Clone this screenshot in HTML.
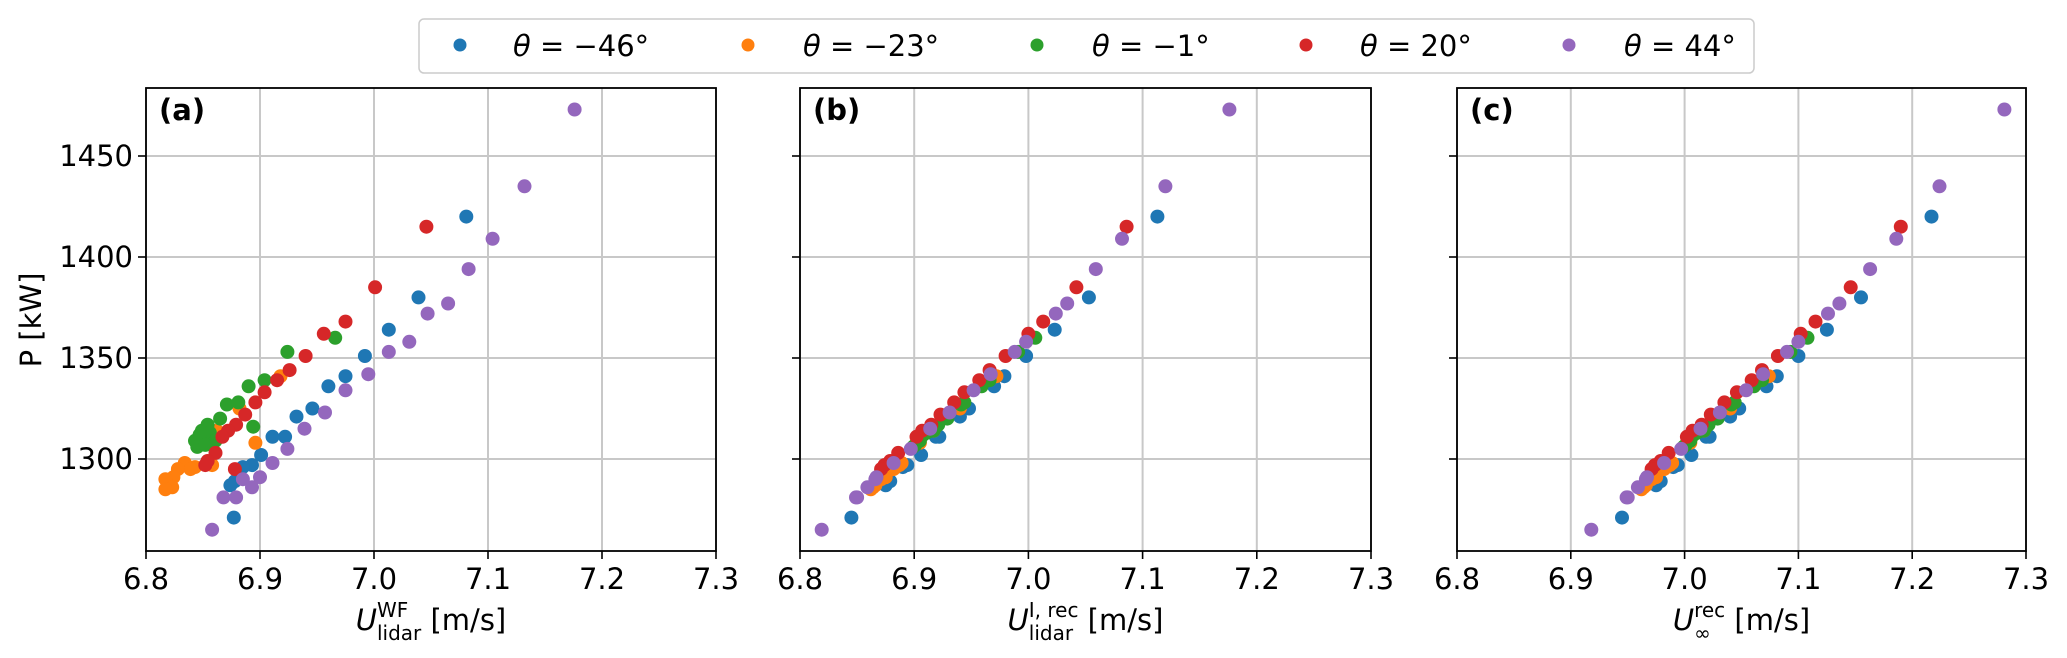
<!DOCTYPE html>
<html><head><meta charset="utf-8"><style>
html,body{margin:0;padding:0;background:#fff;}
svg{display:block;font-family:"DejaVu Sans","Liberation Sans",sans-serif;}
</style></head><body>
<svg id="chart" width="2067" height="658" viewBox="0 0 2067 658" xmlns="http://www.w3.org/2000/svg">
<rect x="0" y="0" width="2067" height="658" fill="#fff"/>
<g id="legend">
  <rect x="419" y="19" width="1335" height="54" rx="5" fill="#fff" stroke="#cccccc" stroke-width="1.5"/>
  <g><circle cx="460" cy="45" r="6.5" fill="#1f77b4"/><text x="513" y="56" font-size="29"><tspan font-style="italic">θ</tspan> = −46°</text></g>
  <g><circle cx="748" cy="45" r="6.5" fill="#ff7f0e"/><text x="803" y="56" font-size="29"><tspan font-style="italic">θ</tspan> = −23°</text></g>
  <g><circle cx="1037" cy="45" r="6.5" fill="#2ca02c"/><text x="1092" y="56" font-size="29"><tspan font-style="italic">θ</tspan> = −1°</text></g>
  <g><circle cx="1306" cy="45" r="6.5" fill="#d62728"/><text x="1360" y="56" font-size="29"><tspan font-style="italic">θ</tspan> = 20°</text></g>
  <g><circle cx="1569" cy="45" r="6.5" fill="#9467bd"/><text x="1624" y="56" font-size="29"><tspan font-style="italic">θ</tspan> = 44°</text></g>
</g>
<text transform="translate(41,320) rotate(-90)" text-anchor="middle" font-size="29">P [kW]</text>
</svg>
<script>
const yTicks = [1300, 1350, 1400, 1450];
const xTicks = [6.8, 6.9, 7.0, 7.1, 7.2, 7.3];
const xTickLabels = ["6.8", "6.9", "7.0", "7.1", "7.2", "7.3"];
const seriesNames = ["theta-minus-46", "theta-minus-23", "theta-minus-1", "theta-20", "theta-44"];
const seriesColors = ["#1f77b4", "#ff7f0e", "#2ca02c", "#d62728", "#9467bd"];

const pBlue = [1420,1380,1364,1351,1341,1336,1325,1321,1311,1311,1302,1297,1296,1289,1287,1271];
const pOrange = [1341,1325,1314,1308,1297,1296,1298,1295,1295,1291,1290,1287,1286,1285];
const pGreen = [1360,1353,1339,1336,1328,1327,1320,1317,1314,1316,1313,1309,1312,1309,1306,1307];
const pRed = [1415,1385,1368,1362,1351,1344,1339,1333,1328,1322,1317,1314,1311,1303,1299,1297,1295];
const pPurple = [1473,1435,1409,1394,1377,1372,1358,1353,1342,1334,1323,1315,1305,1298,1291,1290,1286,1281,1281,1265];

const aBlue = [7.081,7.039,7.013,6.992,6.975,6.960,6.946,6.932,6.922,6.911,6.901,6.893,6.885,6.878,6.874,6.877];
const aOrange = [6.918,6.882,6.862,6.896,6.858,6.843,6.834,6.839,6.828,6.824,6.817,6.819,6.823,6.817];
const aGreen = [6.966,6.924,6.904,6.890,6.881,6.871,6.865,6.854,6.849,6.894,6.856,6.843,6.847,6.861,6.845,6.852];
const aRed = [7.046,7.001,6.975,6.956,6.940,6.926,6.915,6.904,6.896,6.887,6.879,6.872,6.867,6.861,6.854,6.852,6.878];
const aPurple = [7.176,7.132,7.104,7.083,7.065,7.047,7.031,7.013,6.995,6.975,6.957,6.939,6.924,6.911,6.900,6.885,6.893,6.868,6.879,6.858];

const bBlue = [7.113,7.053,7.023,6.998,6.979,6.970,6.948,6.940,6.922,6.919,6.906,6.894,6.890,6.879,6.875,6.845];
const bOrange = [6.972,6.940,6.917,6.905,6.887,6.884,6.889,6.881,6.882,6.875,6.871,6.866,6.864,6.862];
const bGreen = [7.006,6.991,6.966,6.959,6.944,6.941,6.929,6.921,6.917,6.919,6.911,6.905,6.908,6.903,6.899,6.901];
const bRed = [7.086,7.042,7.013,7.000,6.980,6.966,6.957,6.944,6.935,6.923,6.915,6.907,6.902,6.886,6.879,6.874,6.871];
const bPurple = [7.176,7.120,7.082,7.059,7.034,7.024,6.998,6.988,6.967,6.952,6.931,6.914,6.897,6.882,6.867,6.866,6.859,6.849,6.850,6.819];

const cBlue = [7.217,7.155,7.125,7.100,7.081,7.072,7.048,7.040,7.022,7.019,7.006,6.994,6.990,6.979,6.975,6.945];
const cOrange = [7.074,7.040,7.017,7.005,6.987,6.984,6.989,6.981,6.982,6.975,6.971,6.966,6.964,6.962];
const cGreen = [7.108,7.093,7.068,7.061,7.044,7.041,7.029,7.021,7.017,7.019,7.011,7.005,7.008,7.003,6.999,7.001];
const cRed = [7.190,7.146,7.115,7.102,7.082,7.068,7.059,7.046,7.035,7.023,7.015,7.007,7.002,6.986,6.979,6.974,6.971];
const cPurple = [7.281,7.224,7.186,7.163,7.136,7.126,7.100,7.090,7.069,7.054,7.031,7.014,6.997,6.982,6.967,6.966,6.959,6.949,6.950,6.918];

const NS = "http://www.w3.org/2000/svg";
const svg = document.getElementById("chart");
const TOP = 88, BOT = 551;
const X_MIN = 6.8, X_MAX = 7.3;
function yScale(p){ return 459 - (p - 1300) * 2.02; }
function makeX(left, right){ return v => left + (v - X_MIN) / (X_MAX - X_MIN) * (right - left); }
function mk(tag, attrs, parent){
  const e = document.createElementNS(NS, tag);
  for (const k in attrs) e.setAttribute(k, attrs[k]);
  parent.appendChild(e);
  return e;
}

const panels = [
  {id:"a", left:146, right:716, xs:[aBlue,aOrange,aGreen,aRed,aPurple], yLabels:true, xlabel:["U","WF","lidar"]},
  {id:"b", left:800, right:1371, xs:[bBlue,bOrange,bGreen,bRed,bPurple], yLabels:false, xlabel:["U","I, rec","lidar"]},
  {id:"c", left:1457, right:2026, xs:[cBlue,cOrange,cGreen,cRed,cPurple], yLabels:false, xlabel:["U","rec","∞"]}
];
const ps = [pBlue,pOrange,pGreen,pRed,pPurple];

panels.forEach(pn => {
  const xS = makeX(pn.left, pn.right);
  const g = mk("g", {}, svg);
  
  
  xTicks.forEach((t, i) => {
    const x = xS(t);
    const gl = mk("line", {x1:x, x2:x, y1:TOP, y2:BOT, stroke:"#c8c8c8", "stroke-width":2}, g);
    
    
    const tk = mk("line", {x1:x, x2:x, y1:BOT, y2:BOT+8, stroke:"#000", "stroke-width":1.6}, g);
    
    
    const tl = mk("text", {x:x, y:589, "text-anchor":"middle", "font-size":29}, g);
    tl.textContent = xTickLabels[i];
    
    
  });
  yTicks.forEach(t => {
    const y = yScale(t);
    const gl = mk("line", {x1:pn.left, x2:pn.right, y1:y, y2:y, stroke:"#c8c8c8", "stroke-width":2}, g);
    
    
    const tk = mk("line", {x1:pn.left-8, x2:pn.left, y1:y, y2:y, stroke:"#000", "stroke-width":1.6}, g);
    
    
    if (pn.yLabels) {
      const tl = mk("text", {x:pn.left-13, y:y+10, "text-anchor":"end", "font-size":29}, g);
      tl.textContent = String(t);
      
      
    }
  });
  pn.xs.forEach((xsArr, si) => {
    const sg = mk("g", {fill:seriesColors[si]}, g);
    
    
    xsArr.forEach((v, k) => {
      const c = mk("circle", {cx:xS(v).toFixed(1), cy:yScale(ps[si][k]).toFixed(1), r:7}, sg);
      
      
    });
  });
  const fr = mk("rect", {x:pn.left, y:TOP, width:pn.right-pn.left, height:BOT-TOP, fill:"none", stroke:"#000", "stroke-width":1.8}, g);
  
  
  const lb = mk("text", {x:pn.left+13, y:120, "font-size":29, "font-weight":"bold"}, g);
  lb.textContent = "(" + pn.id + ")";
  
  
  const cx = (pn.left + pn.right) / 2;
  const xl = mk("text", {x:cx, y:630, "text-anchor":"middle", "font-size":29}, g);
  
  
  const t1 = mk("tspan", {"font-style":"italic"}, xl); t1.textContent = pn.xlabel[0];
  const t2 = mk("tspan", {dy:-13, "font-size":20}, xl); t2.textContent = pn.xlabel[1];
  const t3 = mk("tspan", {dy:23, "font-size":20}, xl); t3.textContent = pn.xlabel[2];
  const t4 = mk("tspan", {dy:-10}, xl); t4.textContent = " [m/s]";
  const supLen = t2.getComputedTextLength(), subLen = t3.getComputedTextLength();
  t3.setAttribute("dx", -supLen);
  if (subLen < supLen) t4.setAttribute("dx", supLen - subLen);
});
</script>
</body></html>
